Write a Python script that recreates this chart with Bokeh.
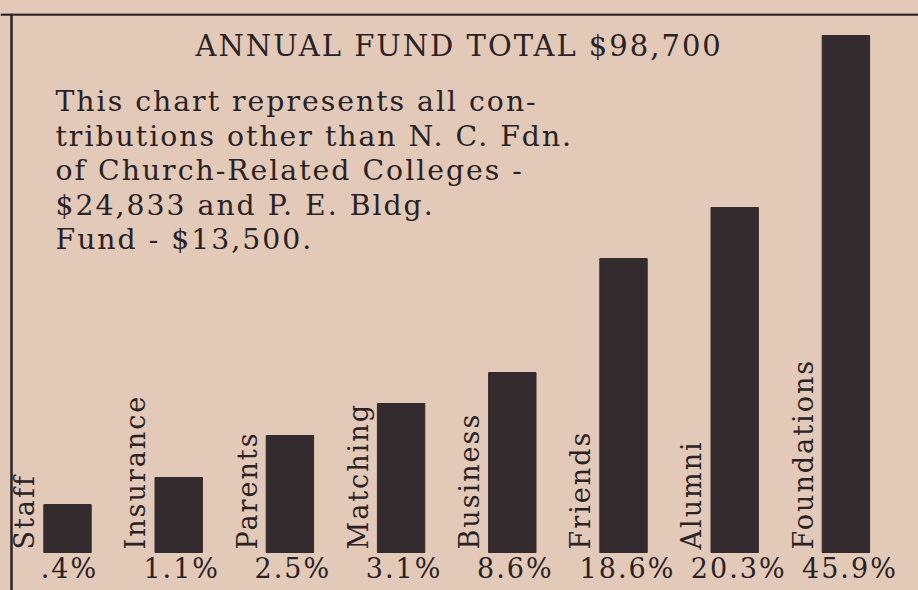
import math
from bokeh.plotting import figure
from bokeh.models import Range1d, Span, ColumnDataSource, InlineStyleSheet, GlobalInlineStyleSheet
from bokeh.core.properties import value
from bokeh.embed import file_html
from bokeh.resources import INLINE

# ---- data ----
categories = ["Staff", "Insurance", "Parents", "Matching",
              "Business", "Friends", "Alumni", "Foundations"]
percent_labels = [".4%", "1.1%", "2.5%", "3.1%", "8.6%", "18.6%", "20.3%", "45.9%"]
bar_height = [48, 75, 117, 149, 180, 294, 345, 517]
title_text = "ANNUAL FUND TOTAL  $98,700"
note_lines = [
    "This chart represents all con-",
    "tributions other than N. C. Fdn.",
    "of Church-Related Colleges -",
    "$24,833 and P. E. Bldg.",
    "Fund - $13,500.",
]

# ---- styling ----
BG = "#e3c9b8"
INK = "#2a2225"
BAR = "#332b2d"
FONT = "DejaVu Serif"

W, H = 918, 590
STEP = 111.2            # pixels per category slot
X0 = -67 / STEP
X1 = X0 + W / STEP
Y0, Y1 = -38, 539

p = figure(width=W, height=H, output_backend="svg", toolbar_location=None,
           x_range=Range1d(X0, X1), y_range=Range1d(Y0, Y1),
           x_axis_type=None, y_axis_type=None,
           min_border_left=0, min_border_right=0, min_border_top=13, min_border_bottom=0)
p.grid.visible = False
p.outline_line_color = None
p.background_fill_color = BG
p.border_fill_color = BG

src = ColumnDataSource(dict(
    x=list(range(len(categories))),
    cat=categories,
    top=bar_height,
    pct=percent_labels,
    zero=[0] * len(categories),
))

p.vbar(x="x", top="top", bottom=0, width=47.4 / STEP, source=src,
       fill_color=BAR, line_color=BAR, line_width=1)

# vertical category labels, left of each bar
p.text(x="x", y="zero", text="cat", source=src, angle=math.pi / 2,
       x_offset=-42.8, y_offset=-3,
       text_font=value(FONT), text_font_size="27px", text_color=INK,
       text_align="left", text_baseline="middle")

# percentage labels below bars
p.text(x="x", y="zero", text="pct", source=src,
       x_offset=-1, y_offset=16,
       text_font=value(FONT), text_font_size="27px", text_color=INK,
       text_align="center", text_baseline="middle")

# title
p.text(x=[X0], y=[506.7], text=[title_text], x_offset=195,
       text_font=value(FONT), text_font_size="29px", text_color=INK,
       text_align="left", text_baseline="middle")

# note block
p.text(x=[X0] * len(note_lines),
       y=[451 - 34.6 * i for i in range(len(note_lines))],
       text=note_lines, x_offset=55,
       text_font=value(FONT), text_font_size="28.3px", text_color=INK,
       text_align="left", text_baseline="middle")

# box border (top and left edges visible)
p.add_layout(Span(location=Y1 - 1, dimension="width", line_color=INK, line_width=2.5))
p.add_layout(Span(location=X0 + 11 / STEP, dimension="height", line_color=INK, line_width=2.5))

p.stylesheets = [
    InlineStyleSheet(css=":host{letter-spacing:2px;}"),
    GlobalInlineStyleSheet(css="body{background:%s;}" % BG),
]

open("out.html", "w").write(file_html(p, INLINE))
